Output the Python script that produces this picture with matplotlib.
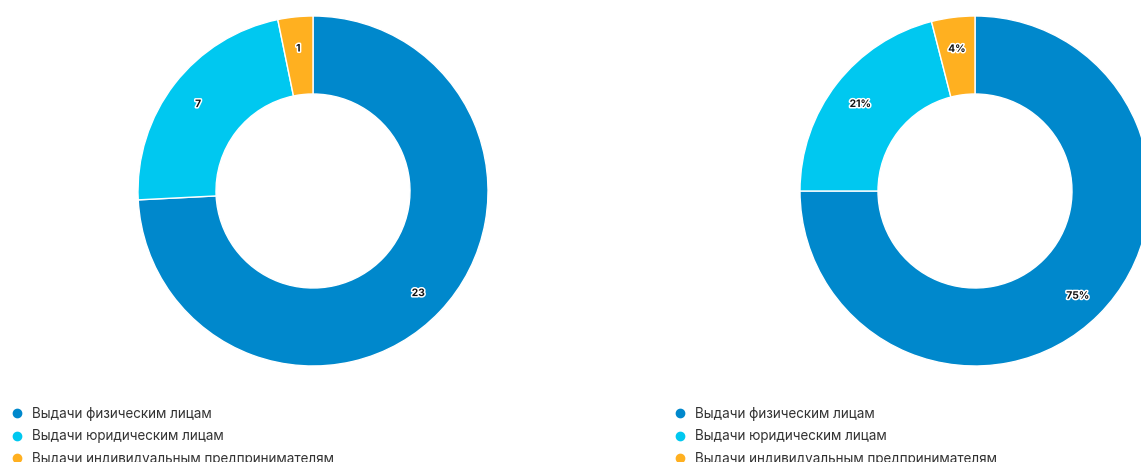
import matplotlib
matplotlib.use("Agg")
import matplotlib.pyplot as plt
import matplotlib.patheffects as pe
from matplotlib.lines import Line2D

plt.rcParams['font.family'] = ['Inter', 'DejaVu Sans']

categories = ['Выдачи физическим лицам', 'Выдачи юридическим лицам',
              'Выдачи индивидуальным предпринимателям']
counts = [23, 7, 1]
shares = [75, 21, 4]
colors = ['#0088cc', '#00c8f0', '#ffb020']

W, H = 1141, 462
fig = plt.figure(figsize=(W / 100, H / 100), dpi=100)
ax = fig.add_axes([0, 0, 1, 1])

total = sum(counts)


def draw(values, cx, fmt):
    wedges, _, autotexts = ax.pie(
        values, colors=colors, startangle=90, counterclock=False,
        center=(cx, H - 191), radius=175,
        wedgeprops=dict(width=78, edgecolor='white', linewidth=1),
        autopct=fmt, pctdistance=0.83)
    for t in autotexts:
        x, y = t.get_position()
        t.set_position((x, y - 2))
        t.set_fontsize(7.4)
        t.set_fontweight('bold')
        t.set_color('#111111')
        t.set_path_effects([pe.withStroke(linewidth=2.2, foreground='white')])


draw(counts, 313, lambda p: f"{round(p * total / 100)}")
draw(shares, 975, lambda p: f"{p:.0f}%")

ax.set_xlim(0, W)
ax.set_ylim(0, H)
ax.set_aspect('equal')
ax.axis('off')

handles = [Line2D([], [], marker='o', linestyle='none', markersize=6,
                  markerfacecolor=c, markeredgecolor=c) for c in colors]
for x0 in (12, 675):
    fig.legend(handles, categories, loc='upper left',
               bbox_to_anchor=(x0 / W, 1 - 407 / H), frameon=False,
               fontsize=9.7, labelcolor='#333333', handlelength=0.8,
               handletextpad=0.65, labelspacing=0.62, borderpad=0,
               borderaxespad=0)

fig.savefig('out.png', dpi=100)
